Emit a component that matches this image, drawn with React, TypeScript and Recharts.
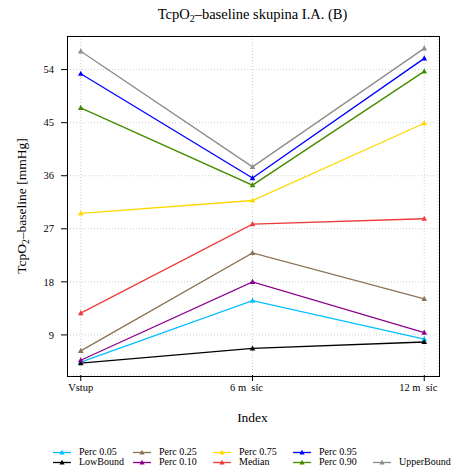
import React from 'react';
import { CartesianGrid, Line, LineChart, XAxis, YAxis } from 'recharts';

// kategorie na ose x (ě se v originále nevykreslilo)
const categories = ['Vstup', '6 m\u00A0\u00A0síc', '12 m\u00A0\u00A0síc'];

// hodnoty
const lowBound = [4.2, 6.7, 7.8];
const perc05 = [4.4, 14.8, 8.3];
const perc10 = [4.7, 18.0, 9.4];
const perc25 = [6.3, 22.9, 15.1];
const median = [12.7, 27.8, 28.7];
const perc75 = [29.6, 31.8, 44.9];
const perc90 = [47.5, 34.4, 53.7];
const perc95 = [53.3, 35.6, 55.9];
const upperBound = [57.1, 37.5, 57.6];

const yTicks = [9, 18, 27, 36, 45, 54];

const FONT = '"Liberation Serif", "DejaVu Serif", serif';

interface SeriesConfig {
    key: string;
    name: string;
    color: string;
    values: number[];
}

const SERIES: SeriesConfig[] = [
    { key: 'perc05', name: 'Perc 0.05', color: '#00BFFF', values: perc05 },
    { key: 'lowBound', name: 'LowBound', color: '#000000', values: lowBound },
    { key: 'perc25', name: 'Perc 0.25', color: '#8B7355', values: perc25 },
    { key: 'perc10', name: 'Perc 0.10', color: '#8B008B', values: perc10 },
    { key: 'perc75', name: 'Perc 0.75', color: '#FFD700', values: perc75 },
    { key: 'median', name: 'Median', color: '#EE3B3B', values: median },
    { key: 'perc95', name: 'Perc 0.95', color: '#0000FF', values: perc95 },
    { key: 'perc90', name: 'Perc 0.90', color: '#458B00', values: perc90 },
    { key: 'upperBound', name: 'UpperBound', color: '#8C8C8C', values: upperBound }
];

// legenda: 2 řádky po sloupcích (prázdné místo = null)
const LEGEND_ROWS: (string | null)[][] = [
    ['perc05', 'perc25', 'perc75', 'perc95', null],
    ['lowBound', 'perc10', 'median', 'perc90', 'upperBound']
];

const data = categories.map((c, i) => {
    const row: Record<string, number | string> = { idx: i, category: c };
    SERIES.forEach((s) => {
        row[s.key] = s.values[i];
    });
    return row;
});

const trianglePath = (cx: number, cy: number, r = 2.8) =>
    `M${cx},${cy - r * 1.1} L${cx - r},${cy + r * 0.75} L${cx + r},${cy + r * 0.75} Z`;

const makeDot = (color: string) => (p: any) => {
    if (p.cx == null || p.cy == null) return <g key={p.index} />;
    return <path key={p.index} d={trianglePath(p.cx, p.cy)} fill={color} />;
};

const XTick = (props: any) => {
    const { x, y, payload } = props;
    const label = categories[payload.value] ?? '';
    // popisky s chybějícím znakem jsou v originále posunuté doleva
    const shift = label.includes('\u00A0') ? -6 : 0;
    return (
        <text x={x + shift} y={y} dy="0.75em" textAnchor="middle" fill="#000" style={{ fontSize: 10.5, fontFamily: FONT }}>
            {label}
        </text>
    );
};

const YTick = (props: any) => {
    const { x, y, payload } = props;
    return (
        <text x={x} y={y} dy="0.35em" textAnchor="end" fill="#000" style={{ fontSize: 10.5, fontFamily: FONT }}>
            {payload.value}
        </text>
    );
};

const PLOT = { left: 67, top: 36, right: 438, bottom: 375 };

export default function App() {
    return (
        <div style={{ position: 'absolute', left: 0, top: 0, width: 452, height: 473, background: '#fff', fontFamily: FONT }}>
            <LineChart
                width={452}
                height={473}
                data={data}
                margin={{ top: PLOT.top, right: 452 - PLOT.right, left: 0, bottom: 473 - PLOT.bottom - 30 }}
            >
                <CartesianGrid stroke="#cfcfcf" strokeDasharray="1 2" />
                <XAxis
                    dataKey="idx"
                    type="number"
                    domain={[-0.08, 2.08]}
                    ticks={[0, 1, 2]}
                    height={30}
                    axisLine={false}
                    tickLine={{ stroke: '#000' }}
                    tickSize={6}
                    tickMargin={2}
                    tick={<XTick />}
                    allowDataOverflow
                />
                <YAxis
                    type="number"
                    domain={[2.2, 59.7]}
                    ticks={yTicks}
                    width={PLOT.left}
                    axisLine={false}
                    tickLine={{ stroke: '#000' }}
                    tickSize={6}
                    tickMargin={7}
                    tick={<YTick />}
                    allowDataOverflow
                />
                {SERIES.map((s) => (
                    <Line
                        key={s.key}
                        dataKey={s.key}
                        name={s.name}
                        stroke={s.color}
                        strokeWidth={1.3}
                        dot={makeDot(s.color)}
                        activeDot={false}
                        isAnimationActive={false}
                    />
                ))}
            </LineChart>

            {/* rámeček grafu */}
            <div
                style={{
                    position: 'absolute',
                    left: PLOT.left - 0.5,
                    top: PLOT.top - 0.5,
                    width: PLOT.right - PLOT.left,
                    height: PLOT.bottom - PLOT.top,
                    border: '1px solid #000',
                    pointerEvents: 'none'
                }}
            />

            {/* nadpis */}
            <div
                style={{
                    position: 'absolute',
                    left: PLOT.left,
                    width: PLOT.right - PLOT.left,
                    top: 4,
                    textAlign: 'center',
                    fontSize: 14.5,
                    lineHeight: '20px',
                    whiteSpace: 'nowrap'
                }}
            >
                TcpO<sub style={{ fontSize: 10, verticalAlign: '-3px', lineHeight: 0 }}>2</sub>–baseline skupina I.A. (B)
            </div>

            {/* popisek osy y */}
            <div
                style={{
                    position: 'absolute',
                    left: 22 - 100,
                    top: (PLOT.top + PLOT.bottom) / 2 - 9,
                    width: 200,
                    height: 18,
                    lineHeight: '18px',
                    textAlign: 'center',
                    fontSize: 13.5,
                    transform: 'rotate(-90deg)',
                    whiteSpace: 'nowrap'
                }}
            >
                TcpO<sub style={{ fontSize: 9.5, verticalAlign: '-3px', lineHeight: 0 }}>2</sub>–baseline [mmHg]
            </div>

            {/* popisek osy x */}
            <div
                style={{
                    position: 'absolute',
                    left: PLOT.left,
                    width: PLOT.right - PLOT.left,
                    top: 409,
                    textAlign: 'center',
                    fontSize: 13.5,
                    lineHeight: '18px'
                }}
            >
                Index
            </div>

            {/* legenda */}
            <div style={{ position: 'absolute', left: 53, top: 447, fontFamily: FONT }}>
                {LEGEND_ROWS.map((row, r) => (
                    <div key={r} style={{ display: 'flex', height: 10 }}>
                        {row.map((k, c) => {
                            const s = SERIES.find((x) => x.key === k);
                            return (
                                <div key={c} style={{ width: 80, display: 'flex', alignItems: 'center', height: 10 }}>
                                    {s && (
                                        <>
                                            <svg width={26} height={10} style={{ flex: 'none' }}>
                                                <line x1={0} x2={18} y1={5.5} y2={5.5} stroke={s.color} strokeWidth={1.3} />
                                                <path d={trianglePath(9, 5.5, 2.6)} fill={s.color} />
                                            </svg>
                                            <span style={{ fontSize: 10, lineHeight: '10px', whiteSpace: 'nowrap', fontFamily: FONT }}>{s.name}</span>
                                        </>
                                    )}
                                </div>
                            );
                        })}
                    </div>
                ))}
            </div>
        </div>
    );
}
